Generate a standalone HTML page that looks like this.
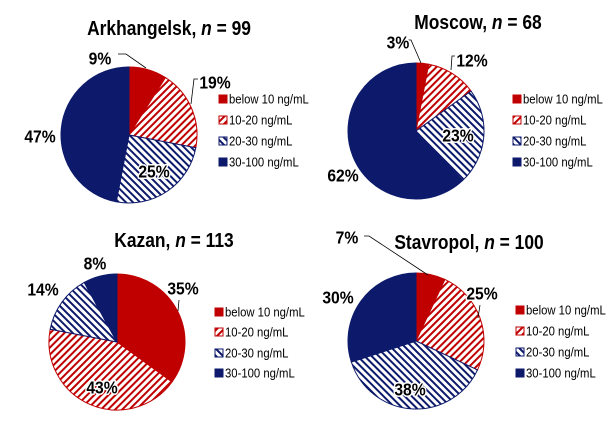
<!DOCTYPE html>
<html><head><meta charset="utf-8"><style>html,body{margin:0;padding:0;background:#fff}svg{display:block}</style></head>
<body>
<svg id="s" width="615" height="421" xmlns="http://www.w3.org/2000/svg" font-family="Liberation Sans, Arial, sans-serif">
<defs>
<pattern id="pr" width="5" height="5" patternUnits="userSpaceOnUse" patternTransform="rotate(45)">
<rect width="5" height="5" fill="#fff"/><rect width="2" height="5" fill="#c00000"/></pattern>
<pattern id="pb" width="5" height="5" patternUnits="userSpaceOnUse" patternTransform="rotate(-45)">
<rect width="5" height="5" fill="#fff"/><rect width="2" height="5" fill="#0d1a6b"/></pattern>
</defs>
</svg>
<script>
const S=document.getElementById('s'),NS='http://www.w3.org/2000/svg';
function el(t,a,txt){const e=document.createElementNS(NS,t);for(const k in a)e.setAttribute(k,a[k]);if(txt!==undefined)e.innerHTML=txt;S.appendChild(e);return e;}
function tx(x,y,a,txt){a.transform=`translate(${x},${y}) scale(0.87,1)`;a.x=0;a.y=0;return el('text',a,txt);}
const fills=['#c00000','url(#pr)','url(#pb)','#0d1a6b'],strokes=['#c00000','#c00000','#0d1a6b','#0d1a6b'];
const legs=['below 10 ng/mL','10-20 ng/mL','20-30 ng/mL','30-100 ng/mL'];
function pie(c){
 let a=0;const [cx,cy,r]=c.p;
 c.v.forEach((v,i)=>{const a0=a;a+=v/100*2*Math.PI;
  const x0=cx+r*Math.sin(a0),y0=cy-r*Math.cos(a0),x1=cx+r*Math.sin(a),y1=cy-r*Math.cos(a);
  el('path',{d:`M${cx},${cy}L${x0},${y0}A${r},${r} 0 ${v>50?1:0} 1 ${x1},${y1}Z`,fill:fills[i],stroke:strokes[i],'stroke-width':1});});
 (c.lines||[]).forEach(d=>el('path',{d:d,fill:'none',stroke:'#000','stroke-width':0.8}));
 tx(c.t[0],c.t[1]+7,{'text-anchor':'middle','font-size':20,'font-weight':'bold'},c.title);
 c.l.forEach((p,i)=>tx(p[0],p[1]+6.5,{'text-anchor':'middle','font-size':18,'font-weight':'bold',fill:'#000',stroke:'#fff','stroke-width':3,'stroke-linejoin':'round','paint-order':'stroke'},c.v[i]+'%'));
 c.g[1].forEach((y,i)=>{el('rect',{x:c.g[0]-4,y:y-4,width:8,height:8,fill:fills[i],stroke:strokes[i],'stroke-width':1});
  tx(c.g[0]+6,y+4.5,{'font-size':13},legs[i]);});
}
pie({p:[129,135,68],v:[9,19,25,47],title:'Arkhangelsk, <tspan font-style="italic">n</tspan> = 99',t:[169,28],
 l:[[100,58],[215,82],[154,171],[40,136]],lines:['M118,54 L126,54 L146,68','M198,79 L194,79 L191,104'],g:[223,[99,120,141,162]]});
pie({p:[416,131,68],v:[3,12,23,62],title:'Moscow, <tspan font-style="italic">n</tspan> = 68',t:[478,22],
 l:[[398,42],[472,60],[458,135],[343,175]],lines:['M408,40 L411,40 L421,63','M455,56 L452,56 L451,70'],g:[517,[99,120,141,162]]});
pie({p:[117,342,68],v:[35,43,14,8],title:'Kazan, <tspan font-style="italic">n</tspan> = 113',t:[174,240],
 l:[[183,288],[102,387],[43,289],[95,263]],lines:['M179,300 L178,311'],g:[219,[312,332,353,373]]});
pie({p:[416,341,68],v:[7,25,38,30],title:'Stavropol, <tspan font-style="italic">n</tspan> = 100',t:[469,242],
 l:[[347,237],[482,293],[410,389],[338,297]],lines:['M364,236 L369,236 L428,275','M480,305 L478,318'],g:[520,[310,331,352,373]]});
</script>
</body></html>
